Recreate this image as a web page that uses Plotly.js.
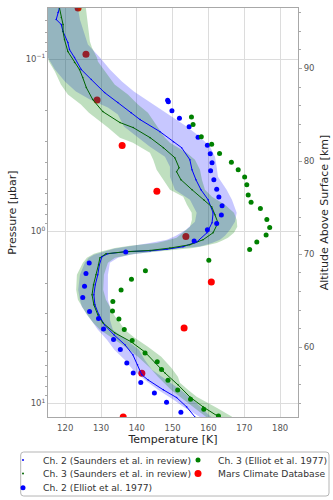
<!DOCTYPE html>
<html><head><meta charset="utf-8">
<script src="https://cdn.plot.ly/plotly-3.0.1.min.js"></script>
<style>html,body{margin:0;padding:0;background:#fff;}#chart{width:333px;height:500px;}</style>
</head><body><div id="chart"></div>
<script>
// ---- tick labels ----
const tempTicks = [120,130,140,150,160,170,180];
const pressureTicks = [0.1,1,10];
const pressureTickText = ['10<sup>−1</sup>','10<sup>0</sup>','10<sup>1</sup>'];
const pressureMinor = [0.06,0.07,0.08,0.09,0.2,0.3,0.4,0.5,0.6,0.7,0.8,0.9,2,3,4,5,6,7,8,9];
const altTicks = [60,70,80,90];
const altMinor = [54,56,58,62,64,66,68,72,74,76,78,82,84,86,88,92,94,96];
const seriesNames = ['Ch. 2 (Saunders et al. in review)','Ch. 3 (Saunders et al. in review)','Ch. 2 (Elliot et al. 1977)','Ch. 3 (Elliot et al. 1977)','Mars Climate Database'];

// ---- Saunders et al. retrieved profiles (T [K] vs p [µbar]) ----
const ch2LineT = [118.4,118.0,117.5,118.9,119.4,120.75,121.2,122.6,124.5,127.3,131.0,134.7,138.4,140.9,146.45,150.2,152.5,154.8,155.4,156.5,157.9,159.9,161.3,161.0,159.6,156.8,152.9,148.4,143.7,136.7,131.9,130.25,129.55,129.1,128.4,128.0,128.3,129.4,130.95,133.6,136.7,138.9,140.2,141.4,143.1,147.4,151.1,153.9,156.2];
const ch2LineP = [0.0505,0.0537,0.0589,0.0630,0.0692,0.0802,0.0881,0.0980,0.1151,0.1316,0.1566,0.1790,0.2047,0.2247,0.2639,0.3018,0.3269,0.3839,0.4389,0.5018,0.5738,0.6560,0.7806,0.8925,1.0202,1.1510,1.2307,1.2728,1.2986,1.3161,1.3517,1.4071,1.5657,1.7906,2.0464,2.3400,2.6752,3.0590,3.4963,3.9968,4.5697,5.2240,5.9728,6.8283,7.3016,8.3468,9.25,10.479,11.982];
const ch3LineT = [118.4,118.9,119.4,119.4,119.8,120.75,122.6,124.0,124.9,125.9,127.7,130.5,135.3,139.0,143.7,147.4,150.6,151.8,151.1,152.3,155.4,158.7,160.9,161.8,162.65,161.3,158.5,154.8,149.25,143.7,136.7,131.4,129.7,129.3,128.6,127.9,127.5,128.0,129.1,130.5,133.8,138.4,142.2,145.1,147.8,151.5,154.8,158.5,162.3,163.5];
const ch3LineP = [0.0505,0.0574,0.0630,0.0692,0.0770,0.0905,0.1048,0.1151,0.1281,0.1464,0.1720,0.2019,0.2339,0.2501,0.2860,0.3269,0.3738,0.4273,0.4508,0.5018,0.5738,0.6560,0.7205,0.8018,0.8925,1.0202,1.1206,1.1981,1.2524,1.2933,1.3161,1.3517,1.4260,1.5657,1.7906,2.0464,2.3400,2.6752,3.0590,3.4041,3.8913,4.3894,5.0188,5.8143,6.6477,7.8054,9.1672,10.479,11.666,12.2];

// ---- uncertainty envelopes ----
const ch2BandP = [0.0505,0.0589,0.0701,0.0824,0.0980,0.1151,0.1351,0.1545,0.1720,0.1914,0.2102,0.2468,0.2822,0.3226,0.3688,0.4217,0.4820,0.5738,0.6560,0.7806,0.8806,0.9802,1.0621,1.1206,1.1713,1.2258,1.2640,1.3161,1.3699,1.4260,1.5241,1.7906,2.1887,2.5020,2.7479,3.2697,3.7378,4.2738,4.8865,5.5860,6.3862,7.3016,8.3468,9.5435,10.479,11.666,12.47];
const ch2BandLow = [113.49,113.49,114.05,114.61,115.17,117.12,119.92,122.99,126.90,131.93,134.72,136.40,140.03,143.66,147.85,149.25,149.25,150.64,154.83,156.70,156.23,153.72,150.92,148.41,143.66,137.51,133.60,130.81,128.02,126.62,125.50,124.11,123.63,124.11,124.66,127.18,129.13,131.65,133.72,136.59,138.91,142.18,145.89,150.36,152.96,156.70,158.74];
const ch2BandHigh = [123.55,124.11,125.22,126.34,129.69,132.49,135.84,139.19,142.54,145.89,148.69,153.91,157.63,160.42,161.82,162.29,162.65,165.08,166.56,167.88,167.40,166.01,164.61,163.21,160.98,157.63,150.64,143.66,138.07,134.72,132.49,131.93,131.93,131.93,132.49,132.49,133.32,137.04,140.59,142.18,144.22,148.13,152.18,155.75,157.77,160.14,161.82];
const ch3BandP = [0.0505,0.0589,0.0701,0.0791,0.0857,0.0980,0.1034,0.1182,0.1407,0.1608,0.1838,0.2047,0.2247,0.2501,0.2860,0.3058,0.3496,0.3839,0.4389,0.5018,0.5738,0.6301,0.7014,0.7806,0.8573,0.9415,1.0202,1.0910,1.1357,1.1713,1.2143,1.2524,1.2986,1.3517,1.4260,1.5241,1.7906,2.1887,2.5020,2.7479,3.0590,3.4041,3.7378,4.1610,4.6934,5.3660,6.2177,7.0136,7.6000,8.3468,9.1672,10.621,11.933,12.47];
const ch3BandLow = [113.49,113.49,114.05,114.33,114.61,115.17,115.45,117.12,118.80,120.75,124.39,126.62,129.13,131.93,135.28,138.91,143.66,144.58,145.53,147.37,149.25,152.96,153.99,155.31,155.39,154.83,152.88,151.12,148.13,145.53,138.07,133.88,130.81,128.02,126.06,124.94,123.27,123.07,123.55,124.66,126.06,127.82,129.69,133.04,136.68,140.31,143.66,145.89,147.57,149.53,152.04,155.95,159.30,160.42];
const ch3BandHigh = [125.78,126.06,126.62,126.90,127.46,128.85,129.13,131.01,133.80,137.51,140.31,143.10,144.50,145.89,147.85,149.25,153.91,156.23,157.63,158.18,159.02,160.98,164.61,167.12,167.88,168.04,167.12,165.45,163.77,162.29,159.02,155.75,147.85,139.47,133.88,131.93,130.81,130.61,131.37,132.49,133.60,135.28,136.59,139.39,143.10,146.82,149.61,151.48,152.04,154.27,156.70,162.29,166.48,167.68];

// ---- Elliot et al. 1977 ----
const elliotCh2T = [148.6,148.8,149.8,151.9,154.6,157.1,159.7,160.5,161.0,160.6,161.5,162.3,162.9,163.8,163.6,162.3,159.7,156.0,136.9,126.7,125.8,125.4,124.9,126.8,129.3,130.7,133.5,135.4,137.2,139.0,141.1,144.9,148.3,152.3];
const elliotCh2P = [0.1736,0.1767,0.1993,0.2209,0.2475,0.2841,0.3170,0.3542,0.4007,0.4449,0.5020,0.5698,0.6327,0.7106,0.8039,0.9010,0.980,1.139,1.321,1.531,1.759,2.088,2.426,2.926,3.214,3.703,4.257,4.867,5.833,6.665,7.569,8.711,9.867,11.28];
const elliotCh3T = [155.25,155.7,158.0,160.9,163.1,166.4,168.3,170.1,170.7,171.1,171.9,174.5,176.3,177.1,176.1,173.5,171.5,160.1,142.4,138.5,135.6,133.3,133.2,135.0,136.5,138.7,142.3,145.7,146.9,148.7,151.4,155.0,158.7,162.8];
const elliotCh3P = [0.2168,0.2403,0.2829,0.3128,0.3534,0.3970,0.4389,0.4841,0.5366,0.6161,0.6782,0.7379,0.8551,0.9504,1.051,1.156,1.278,1.474,1.697,1.901,2.194,2.559,2.907,3.240,3.724,4.314,5.101,5.739,6.360,7.350,8.367,9.478,10.81,11.85];

// ---- Mars Climate Database ----
const mcdT = [123.6,125.8,128.9,135.9,145.6,153.7,160.8,153.2,141.4,136.2];
const mcdP = [0.0505,0.0939,0.1731,0.3174,0.5853,1.072,1.974,3.654,6.674,11.98];

const FONT = '"DejaVu Sans", "Liberation Sans", sans-serif';
function band(P, lo, hi, color){
  return {x: lo.concat(hi.slice().reverse()), y: P.concat(P.slice().reverse()),
    mode:'lines', fill:'toself', fillcolor:color, line:{width:0}, showlegend:false, hoverinfo:'skip', type:'scatter'};
}
const traces = [
  {x:mcdT, y:mcdP, mode:'markers', type:'scatter', name:seriesNames[4], legend:'legend5',
   marker:{color:'#ff0000', size:7}, cliponaxis:true},
  band(ch2BandP, ch2BandLow, ch2BandHigh, 'rgba(0,0,255,0.22)'),
  band(ch3BandP, ch3BandLow, ch3BandHigh, 'rgba(0,128,0,0.25)'),
  {x:ch2LineT, y:ch2LineP, mode:'lines', type:'scatter', line:{color:'#0000ff', width:1}, showlegend:false},
  {x:ch3LineT, y:ch3LineP, mode:'lines', type:'scatter', line:{color:'#006400', width:1}, showlegend:false},
  {x:ch2LineT, y:ch2LineP, mode:'markers', type:'scatter', name:seriesNames[0], legend:'legend',
   marker:{color:'#0000ff', size:1.5}},
  {x:ch3LineT, y:ch3LineP, mode:'markers', type:'scatter', name:seriesNames[1], legend:'legend2',
   marker:{color:'#006400', size:1.5}},
  {x:elliotCh2T, y:elliotCh2P, mode:'markers', type:'scatter', name:seriesNames[2], legend:'legend3',
   marker:{color:'#0000ff', size:5}},
  {x:elliotCh3T, y:elliotCh3P, mode:'markers', type:'scatter', name:seriesNames[3], legend:'legend4',
   marker:{color:'#008000', size:5}},
  {x:[], y:[], yaxis:'y2', type:'scatter', mode:'markers', showlegend:false, hoverinfo:'skip'}
];
function leg(x, y){
  return {x:x, y:y, xanchor:'left', yanchor:'middle', bgcolor:'rgba(0,0,0,0)', borderwidth:0,
    font:{family:FONT, size:9.2, color:'#333'}, itemwidth:30};
}
const c1 = -0.18, c2 = 0.52, r1 = -0.1051, r2 = -0.1381, r3 = -0.1729;
const bx0=-0.1092, bx1=1.124, by0=-0.0856, by1=-0.1932, rx=0.012, ry=0.0073;
const boxPath = `M ${bx0+rx},${by0} L ${bx1-rx},${by0} Q ${bx1},${by0} ${bx1},${by0-ry} L ${bx1},${by1+ry} Q ${bx1},${by1} ${bx1-rx},${by1} L ${bx0+rx},${by1} Q ${bx0},${by1} ${bx0},${by1+ry} L ${bx0},${by0-ry} Q ${bx0},${by0} ${bx0+rx},${by0} Z`;
const axisLine = '#a8a8a8', grid = '#dcdcdc', tickCol = '#555555';
const layout = {
  width:333, height:500,
  margin:{l:48, r:35, t:8, b:83, autoexpand:false},
  paper_bgcolor:'#ffffff', plot_bgcolor:'#ffffff',
  font:{family:FONT, color:'#333', size:9},
  showlegend:true,
  xaxis:{range:[115.2,185], tickvals:tempTicks, showgrid:true, gridcolor:grid, gridwidth:1,
    showline:true, mirror:true, linecolor:axisLine, linewidth:1, zeroline:false,
    ticks:'outside', ticklen:3, tickcolor:'rgba(0,0,0,0)',
    tickfont:{family:FONT, size:8.5, color:tickCol},
    title:{text:'Temperature [K]', font:{family:FONT, size:11, color:'#262626'}, standoff:0}},
  yaxis:{type:'log', range:[Math.log10(12), Math.log10(0.0505)], tickvals:pressureTicks, ticktext:pressureTickText,
    showgrid:true, gridcolor:grid, gridwidth:1, showline:true, mirror:true, linecolor:axisLine, linewidth:1,
    ticks:'', zeroline:false, tickfont:{family:FONT, size:8.5, color:tickCol},
    minor:{tickvals:pressureMinor, ticks:'outside', ticklen:2, tickcolor:axisLine, showgrid:false},
    title:{text:'Pressure [μbar]', font:{family:FONT, size:11, color:'#262626'}, standoff:6}},
  yaxis2:{overlaying:'y', side:'right', range:[52.5,96.5], tickvals:altTicks, showgrid:false, zeroline:false,
    ticks:'outside', ticklen:3, tickcolor:axisLine, showline:true, linecolor:axisLine, linewidth:1,
    minor:{tickvals:altMinor, ticks:'outside', ticklen:2, tickcolor:axisLine, showgrid:false},
    tickfont:{family:FONT, size:8.5, color:tickCol},
    title:{text:'Altitude Above Surface [km]', font:{family:FONT, size:11, color:'#262626'}, standoff:6}},
  legend:leg(c1, r1), legend2:leg(c1, r2), legend3:leg(c1, r3), legend4:leg(c2, r1), legend5:leg(c2, r2),
  shapes:[{type:'path', xref:'paper', yref:'paper', path:boxPath, line:{color:'#b5b5b5', width:1}, fillcolor:'rgba(0,0,0,0)', layer:'above'}]
};
Plotly.newPlot('chart', traces, layout, {staticPlot:true, displayModeBar:false});
</script></body></html>
